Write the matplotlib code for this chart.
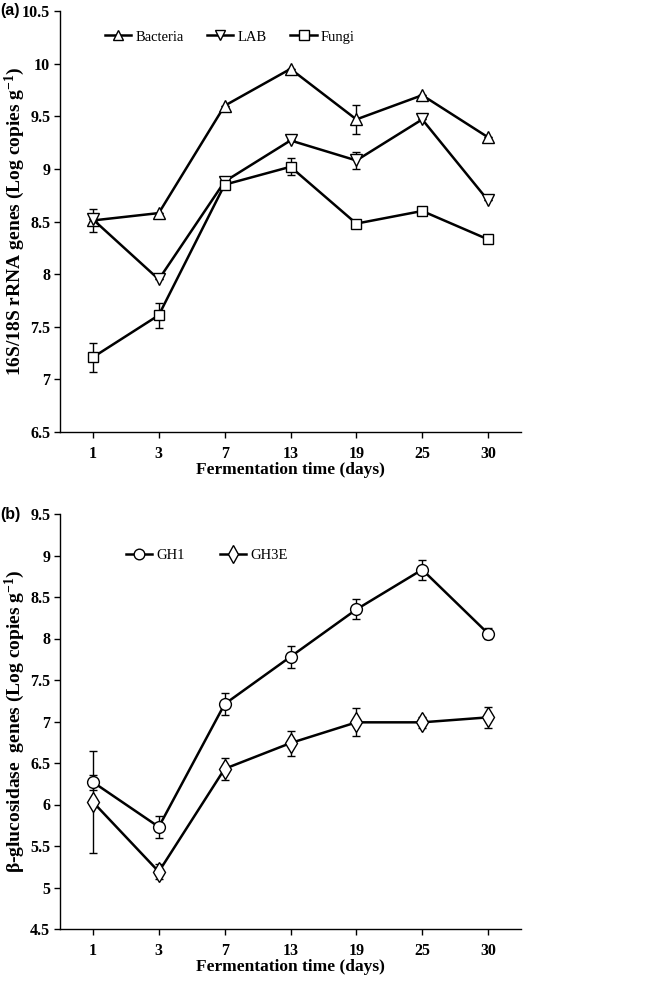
import matplotlib
matplotlib.use("Agg")
import matplotlib.pyplot as plt
from matplotlib.lines import Line2D
import numpy as np

days = ["1", "3", "7", "13", "19", "25", "30"]

bacteria = [8.51, 8.58, 9.60, 9.95, 9.47, 9.70, 9.30]
bacteria_err = [0.11, 0.0, 0.0, 0.0, 0.14, 0.0, 0.0]
lab = [8.52, 7.95, 8.88, 9.27, 9.08, 9.47, 8.70]
lab_err = [0.0, 0.0, 0.0, 0.0, 0.08, 0.0, 0.0]
fungi = [7.21, 7.61, 8.85, 9.02, 8.48, 8.60, 8.33]
fungi_err = [0.14, 0.12, 0.0, 0.08, 0.0, 0.0, 0.0]

gh1 = [6.27, 5.73, 7.21, 7.78, 8.35, 8.83, 8.06]
gh1_err = [0.09, 0.13, 0.13, 0.13, 0.12, 0.12, 0.07]
gh3e = [6.03, 5.19, 6.43, 6.74, 6.99, 6.99, 7.05]
gh3e_err = [0.61, 0.09, 0.13, 0.15, 0.17, 0.07, 0.13]

serif = ["Liberation Serif", "DejaVu Serif"]
plt.rcParams["font.family"] = serif
plt.rcParams["mathtext.fontset"] = "custom"
plt.rcParams["mathtext.rm"] = "Liberation Serif:bold"
plt.rcParams["mathtext.it"] = "Liberation Serif:bold"
plt.rcParams["mathtext.bf"] = "Liberation Serif:bold"

W, H = 650, 985
fig = plt.figure(figsize=(6.5, 9.85), dpi=100)
L, R = 60, 521
ax1 = fig.add_axes([L / W, 1 - 432 / H, (R - L) / W, (432 - 11) / H])
ax2 = fig.add_axes([L / W, 1 - 929 / H, (R - L) / W, (929 - 514) / H])

x = np.arange(len(days))
MS = {"^": 8, "v": 8, "s": 7.5, "o": 8.5, "d": 10}

def series(ax, y, err, marker, label):
    ax.errorbar(x, y, yerr=err, color="black", lw=1.8, marker=marker, ms=MS[marker],
                mfc="white", mec="black", mew=1.0, capsize=3, elinewidth=1.0,
                capthick=1.0, zorder=3)
    return Line2D([], [], color="black", lw=1.8, marker=marker, ms=MS[marker] * 0.9,
                  mfc="white", mec="black", mew=1.0, label=label)

h1 = [series(ax1, bacteria, bacteria_err, "^", "Bacteria"),
      series(ax1, lab, lab_err, "v", "LAB"),
      series(ax1, fungi, fungi_err, "s", "Fungi")]
h2 = [series(ax2, gh1, gh1_err, "o", "GH1"),
      series(ax2, gh3e, gh3e_err, "d", "GH3E")]

def style(ax, ylim, yticks, ylabel, height_px):
    ax.set_xlim(-0.5, 6.5)
    ax.set_ylim(*ylim)
    ax.set_xticks(x)
    ax.set_xticklabels(days)
    ax.set_yticks(yticks)
    ax.set_yticklabels([("%g" % t) for t in yticks])
    for s in ["top", "right"]:
        ax.spines[s].set_visible(False)
    for s in ["left", "bottom"]:
        ax.spines[s].set_linewidth(1.0)
    ax.tick_params(direction="out", length=4, width=1.0, labelsize=11.5, pad=3)
    ax.tick_params(axis="x", pad=6)
    for t in ax.get_xticklabels() + ax.get_yticklabels():
        t.set_fontweight("bold")
    ax.set_xlabel("Fermentation time (days)", fontsize=12.5, fontweight="bold")
    ax.set_ylabel(ylabel, fontsize=14, fontweight="bold")
    ax.yaxis.label.set_verticalalignment("center")
    ax.yaxis.set_label_coords((15 - L) / (R - L), 0.5)
    ax.xaxis.set_label_coords(0.5, -30 / height_px)

style(ax1, (6.5, 10.5), np.arange(6.5, 10.51, 0.5),
      "16S/18S rRNA genes (Log copies g$^{-1}$)", 421)
style(ax2, (4.5, 9.5), np.arange(4.5, 9.51, 0.5),
      "β-glucosidase  genes (Log copies g$^{-1}$)", 415)

def legend(ax, handles, xy, colsp):
    ax.legend(handles=handles, loc="center left", bbox_to_anchor=xy, ncol=len(handles),
              frameon=False, handlelength=1.8, handletextpad=0.3, columnspacing=colsp,
              borderpad=0, borderaxespad=0,
              prop={"family": serif, "size": 10.5})

legend(ax1, h1, ((105 - L) / (R - L), (432 - 37) / 421), 1.6)
legend(ax2, h2, ((126 - L) / (R - L), (929 - 555) / 415), 2.4)

fig.text(0.0, 1 - 11 / H, "(a)", family=["Liberation Sans", "DejaVu Sans"],
         fontsize=11.5, fontweight="bold", va="center", ha="left")
fig.text(0.0, 1 - 514 / H, "(b)", family=["Liberation Sans", "DejaVu Sans"],
         fontsize=11.5, fontweight="bold", va="center", ha="left")

fig.savefig("out.png", dpi=100)
